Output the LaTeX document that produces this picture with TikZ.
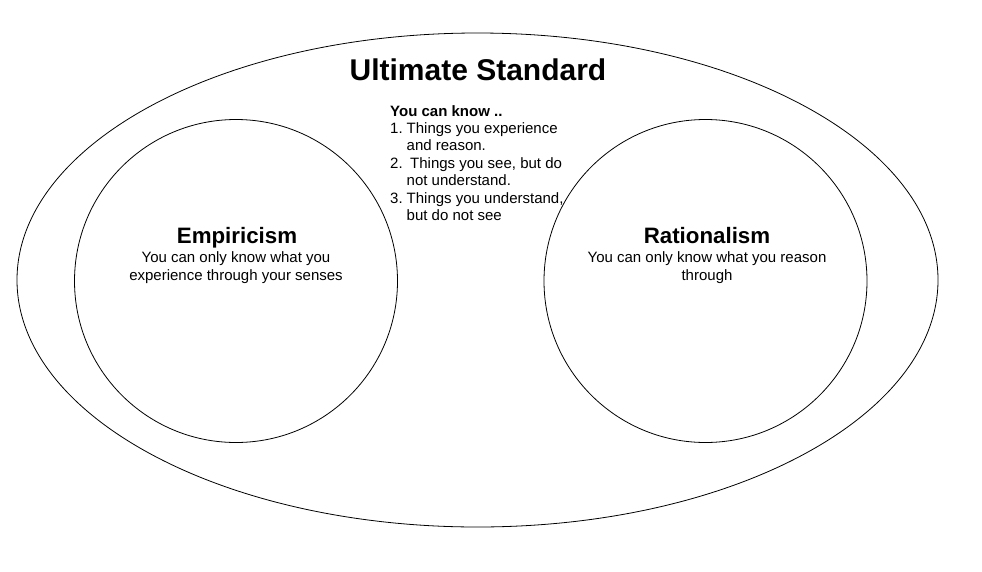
\documentclass[tikz,border=0pt]{standalone}
\usepackage{fontspec}
\setmainfont{Liberation Sans}
\usetikzlibrary{shapes.geometric}

\tikzset{
    outline/.style={draw, line width=0.8pt, inner sep=0pt},
    heading/.style={font=\fontsize{22.3}{26}\selectfont\bfseries},
    blurb/.style={font=\fontsize{15}{18}\selectfont, align=center},
}

\begin{document}
\begin{tikzpicture}[x=1pt,y=-1pt]
            \useasboundingbox (0,0) rectangle (982,571);
            \node[outline, ellipse, minimum width=921pt, minimum height=494pt] (standard) at (477.5,280){};
            \node[outline, circle, minimum size=323pt] (empiricism) at (236,281){};
            \node[outline, circle, minimum size=323pt] (rationalism) at (705.5,281){};
            \node[font=\fontsize{30}{34}\selectfont\bfseries, anchor=base] (title) at (478,80.5){Ultimate Standard};
            % the two schools
            \node[heading, anchor=base] (emphead) at (237,243.5){Empiricism};
            \node[blurb, anchor=base] (empdesc) at (236,280){You can only know what you\\experience through your senses};
            \node[heading, anchor=base] (rathead) at (707,243.5){Rationalism};
            \node[blurb, anchor=base] (ratdesc) at (707,280){You can only know what you reason\\through};
            % what can be known
            \node[font=\fontsize{15}{17.4}\selectfont, anchor=base west, inner sep=0pt] (know) at (390,116){%
                \begin{tabular}[t]{@{}l@{\hspace{4pt}}l@{}}
                    \multicolumn{2}{@{}l@{}}{\bfseries You can know ..}\\
                    1. & Things you experience\\
                       & and reason.\\
                    2. & \hspace{3.5pt}Things you see, but do\\
                       & not understand.\\
                    3. & Things you understand,\\
                       & but do not see
                \end{tabular}};
\end{tikzpicture}
\end{document}
